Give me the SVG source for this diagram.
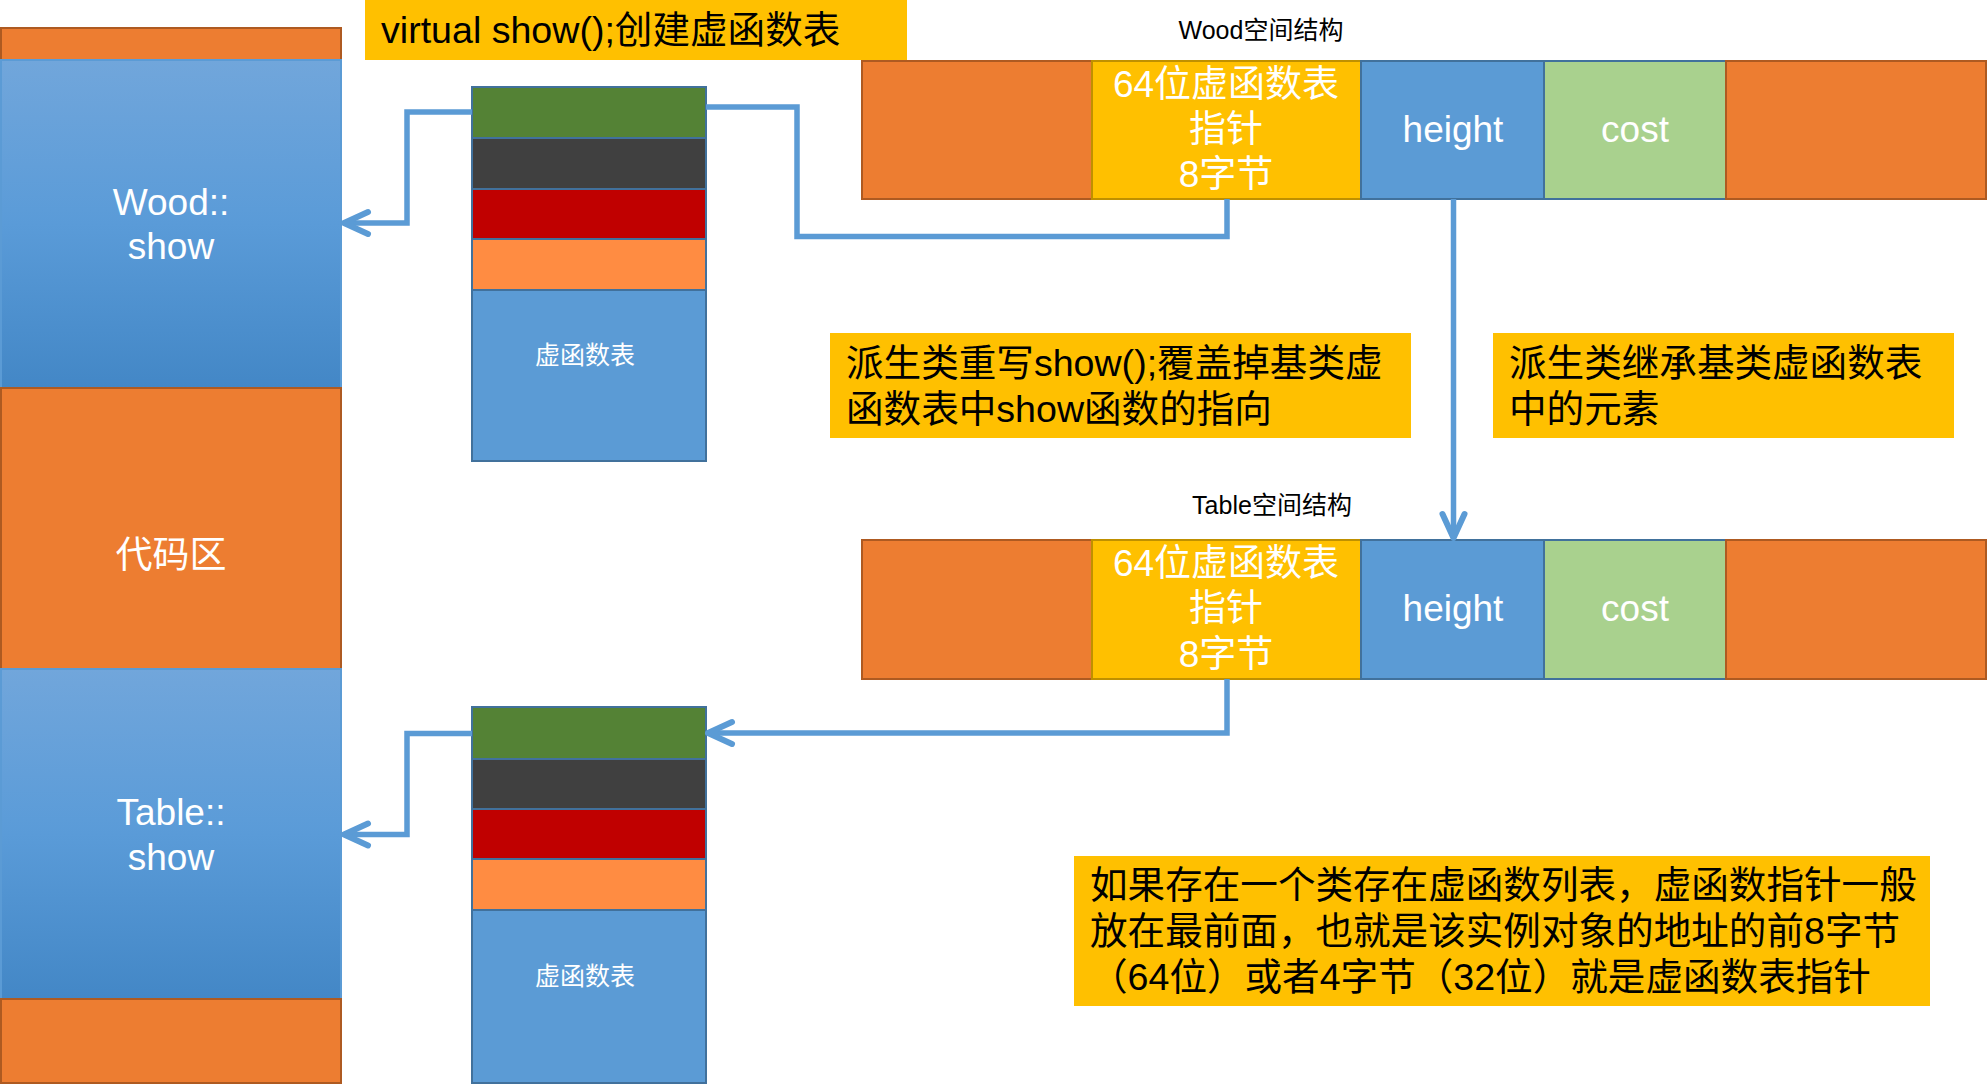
<svg xmlns="http://www.w3.org/2000/svg" width="1988" height="1084" viewBox="0 0 1988 1084">
<style>
text{font-family:"Liberation Sans","Noto Sans CJK SC",sans-serif}
.org{fill:#ED7D31;stroke:#AE5A21;stroke-width:2}
.blu{fill:#5B9BD5;stroke:#41719C;stroke-width:2}
.yel{fill:#FFC000;stroke:#BF9000;stroke-width:2}
.grn{fill:#A9D18E;stroke:#41719C;stroke-width:2}
.col{stroke:#5B9BD5;stroke-width:2}
.note{fill:#FFC000}
.vt{stroke:#41719C;stroke-width:2}
.wt{fill:#FFFFFF;font-size:37px}
.bk{fill:#000000;font-size:37.6px}
.sm{fill:#000000;font-size:25px}
.vl{fill:#FFFFFF;font-size:25px}
.c{text-anchor:middle}
.line{fill:none;stroke:#5B9BD5;stroke-width:5.5;stroke-linejoin:miter}
</style>
<defs>
<linearGradient id="gBlue" x1="0" y1="0" x2="0" y2="1">
<stop offset="0" stop-color="#71A6DB"/>
<stop offset="0.5" stop-color="#5A9BD8"/>
<stop offset="1" stop-color="#4387C6"/>
</linearGradient>
<marker id="chev" markerUnits="userSpaceOnUse" markerWidth="40" markerHeight="40" viewBox="-32 -20 40 40" refX="0" refY="0" orient="auto">
<path d="M-24,-11 L0,0 L-24,11" fill="none" stroke="#5B9BD5" stroke-width="6" stroke-linecap="round" stroke-linejoin="round"/>
</marker>
</defs>

<g id="code-area">
<rect class="org" x="1" y="28" width="340" height="32"/>
<rect class="col" x="1" y="60" width="340" height="328" fill="url(#gBlue)"/>
<rect class="org" x="1" y="388" width="340" height="281"/>
<rect class="col" x="1" y="669" width="340" height="330" fill="url(#gBlue)"/>
<rect class="org" x="1" y="999" width="340" height="84"/>
</g>
<g id="wood-show">
<text class="wt c" x="171" y="215">Wood::</text>
<text class="wt c" x="171" y="259">show</text>
</g>
<g id="code-label">
<text class="wt c" x="171" y="568">代码区</text>
</g>
<g id="table-show">
<text class="wt c" x="171" y="825">Table::</text>
<text class="wt c" x="171" y="870">show</text>
</g>

<g id="title-note">
<rect class="note" x="365" y="0" width="542" height="60"/>
<text class="bk" x="381" y="43">virtual show();创建虚函数表</text>
</g>

<g id="vtable-wood">
<rect class="vt" x="472" y="87" width="234" height="51" fill="#548235"/>
<rect class="vt" x="472" y="138" width="234" height="51" fill="#404040"/>
<rect class="vt" x="472" y="189" width="234" height="50" fill="#C00000"/>
<rect class="vt" x="472" y="239" width="234" height="51" fill="#FF8C42"/>
<rect class="vt" x="472" y="290" width="234" height="171" fill="#5B9BD5"/>
<text class="vl c" x="585" y="364">虚函数表</text>
</g>

<g id="vtable-table">
<rect class="vt" x="472" y="707" width="234" height="52" fill="#548235"/>
<rect class="vt" x="472" y="759" width="234" height="50" fill="#404040"/>
<rect class="vt" x="472" y="809" width="234" height="50" fill="#C00000"/>
<rect class="vt" x="472" y="859" width="234" height="51" fill="#FF8C42"/>
<rect class="vt" x="472" y="910" width="234" height="173" fill="#5B9BD5"/>
<text class="vl c" x="585" y="985">虚函数表</text>
</g>

<g id="wood-struct">
<text class="sm c" x="1261" y="39">Wood空间结构</text>
<rect class="org" x="862" y="61" width="230" height="138"/>
<rect class="yel" x="1092" y="61" width="269" height="138"/>
<rect class="blu" x="1361" y="61" width="183" height="138"/>
<rect class="grn" x="1544" y="61" width="182" height="138"/>
<rect class="org" x="1726" y="61" width="260" height="138"/>
<text class="wt c" x="1226" y="97">64位虚函数表</text>
<text class="wt c" x="1226" y="142">指针</text>
<text class="wt c" x="1226" y="187">8字节</text>
<text class="wt c" x="1453" y="142">height</text>
<text class="wt c" x="1635" y="142">cost</text>
</g>

<g id="table-struct">
<text class="sm c" x="1272" y="514">Table空间结构</text>
<rect class="org" x="862" y="540" width="230" height="139"/>
<rect class="yel" x="1092" y="540" width="269" height="139"/>
<rect class="blu" x="1361" y="540" width="183" height="139"/>
<rect class="grn" x="1544" y="540" width="182" height="139"/>
<rect class="org" x="1726" y="540" width="260" height="139"/>
<text class="wt c" x="1226" y="576">64位虚函数表</text>
<text class="wt c" x="1226" y="621">指针</text>
<text class="wt c" x="1226" y="667">8字节</text>
<text class="wt c" x="1453" y="621">height</text>
<text class="wt c" x="1635" y="621">cost</text>
</g>

<g id="note-override">
<rect class="note" x="830" y="333" width="581" height="105"/>
<text class="bk" x="846" y="376">派生类重写show();覆盖掉基类虚</text>
<text class="bk" x="846" y="422">函数表中show函数的指向</text>
</g>

<g id="note-inherit">
<rect class="note" x="1493" y="333" width="461" height="105"/>
<text class="bk" x="1509" y="376">派生类继承基类虚函数表</text>
<text class="bk" x="1509" y="422">中的元素</text>
</g>

<g id="note-vptr">
<rect class="note" x="1074" y="856" width="856" height="150"/>
<text class="bk" x="1090" y="898">如果存在一个类存在虚函数列表，虚函数指针一般</text>
<text class="bk" x="1090" y="944">放在最前面，也就是该实例对象的地址的前8字节</text>
<text class="bk" x="1090" y="990">（64位）或者4字节（32位）就是虚函数表指针</text>
</g>

<g id="connectors">
<path class="line" d="M472,112 H407 V223 H344" marker-end="url(#chev)"/>
<path class="line" d="M1227,199 V236.5 H797 V107 H706"/>
<path class="line" d="M1453.5,199 V538" marker-end="url(#chev)"/>
<path class="line" d="M1227,679 V733 H708" marker-end="url(#chev)"/>
<path class="line" d="M472,733.5 H407 V834.5 H344" marker-end="url(#chev)"/>
</g>
</svg>
